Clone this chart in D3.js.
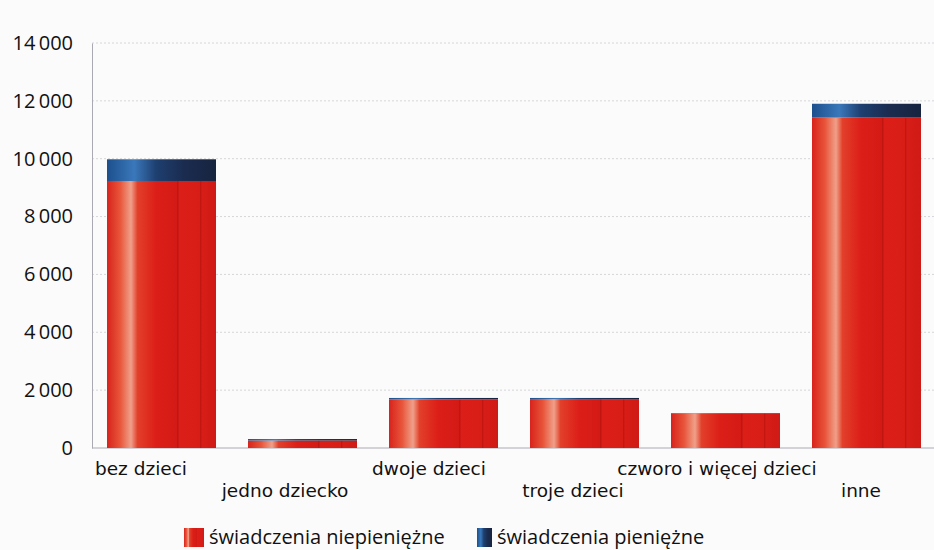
<!DOCTYPE html>
<html>
<head>
<meta charset="utf-8">
<script src="https://cdn.jsdelivr.net/npm/d3@7"></script>
<style>
  body { margin: 0; background: #fbfbfb; }
  svg { display: block; }
</style>
</head>
<body>
<div id="chart"></div>
<script>
// data
const categories = ["bez dzieci", "jedno dziecko", "dwoje dzieci", "troje dzieci", "czworo i więcej dzieci", "inne"];
const niepieniezne = [9230, 260, 1680, 1690, 1200, 11420];
const pieniezne = [750, 50, 50, 40, 10, 480];
const seriesNames = ["świadczenia niepieniężne", "świadczenia pieniężne"];
const yTicks = [0, 2000, 4000, 6000, 8000, 10000, 12000, 14000];

const width = 934, height = 550;
const margin = {top: 43, right: 0, bottom: 102, left: 92};

let svg = d3.select("#chart")
  .append("svg")
  .attr("width", width)
  .attr("height", height);

let defs = svg.append("defs");

// shaded bar look (highlight stripe + darker edges)
let redGrad = defs.append("linearGradient").attr("id", "redGrad");
[[0, "#d8231c"], [0.12, "#e8553a"], [0.22, "#f0a08a"], [0.28, "#e2402b"], [0.45, "#dc1e18"],
 [0.64, "#d41a15"], [0.65, "#b8130f"], [0.66, "#dc1e18"], [0.85, "#d81d17"], [0.86, "#bd1410"],
 [0.87, "#d81d17"], [1, "#cf1a15"]].forEach(s => {
  redGrad.append("stop").attr("offset", s[0]).attr("stop-color", s[1]);
});
let blueGrad = defs.append("linearGradient").attr("id", "blueGrad");
[[0, "#1d4f8c"], [0.25, "#3a78bb"], [0.45, "#1e3f70"], [0.7, "#1b2c50"], [1, "#17243f"]].forEach(s => {
  blueGrad.append("stop").attr("offset", s[0]).attr("stop-color", s[1]);
});

let xScale = d3.scaleBand()
  .domain(categories)
  .range([91, 937])
  .paddingInner(0.227)
  .paddingOuter(0.1135);

// labels sit a bit left of the bars, on their own spacing
let labelScale = d3.scalePoint()
  .domain(categories)
  .range([141, 861]);

let yScale = d3.scaleLinear()
  .domain([0, 14000])
  .range([height - margin.bottom, margin.top]);

// gridlines
svg.append("g")
  .selectAll("line")
  .data(yTicks.slice(1))
  .enter()
  .append("line")
    .attr("x1", margin.left)
    .attr("x2", width)
    .attr("y1", d => yScale(d))
    .attr("y2", d => yScale(d))
    .attr("stroke", "#d6d6da")
    .attr("stroke-dasharray", "2,2");

// y axis
let yAxis = svg.append("g")
  .attr("transform", `translate(${margin.left}, 0)`)
  .call(d3.axisLeft(yScale).tickValues(yTicks).tickSize(0).tickPadding(19)
    .tickFormat(d => d3.format(",")(d).replace(",", "\u2009")));
yAxis.select(".domain").attr("stroke", "#a9a9b3");
yAxis.selectAll("text")
  .attr("font-family", "'Open Sans', sans-serif")
  .attr("font-size", "20px")
  .attr("fill", "#111");

// baseline
svg.append("line")
  .attr("x1", margin.left)
  .attr("x2", width)
  .attr("y1", yScale(0))
  .attr("y2", yScale(0))
  .attr("stroke", "#a9a9b3");

// stacked bars
let rows = categories.map((c, i) => ({cat: c, a: niepieniezne[i], b: pieniezne[i]}));

svg.selectAll(".red")
  .data(rows)
  .enter()
  .append("rect")
    .attr("class", "red")
    .attr("x", d => xScale(d.cat))
    .attr("width", xScale.bandwidth())
    .attr("y", d => yScale(d.a))
    .attr("height", d => yScale(0) - yScale(d.a))
    .attr("fill", "url(#redGrad)");

svg.selectAll(".blue")
  .data(rows)
  .enter()
  .append("rect")
    .attr("class", "blue")
    .attr("x", d => xScale(d.cat))
    .attr("width", xScale.bandwidth())
    .attr("y", d => yScale(d.a + d.b))
    .attr("height", d => yScale(d.a) - yScale(d.a + d.b))
    .attr("fill", "url(#blueGrad)");

// x labels, staggered in two rows
svg.selectAll(".xlab")
  .data(categories)
  .enter()
  .append("text")
    .attr("class", "xlab")
    .attr("x", d => labelScale(d))
    .attr("y", (d, i) => i % 2 === 0 ? 475 : 497)
    .attr("text-anchor", "middle")
    .attr("font-family", "'DejaVu Sans', sans-serif")
    .attr("font-size", "18.5px")
    .attr("fill", "#111")
    .text(d => d);

// legend
let legend = svg.append("g").attr("transform", "translate(184, 0)");
let legX = [0, 293];
let legFill = ["url(#redGrad)", "url(#blueGrad)"];
seriesNames.forEach((name, i) => {
  legend.append("rect")
    .attr("x", legX[i])
    .attr("y", 528)
    .attr("width", i === 0 ? 20 : 15)
    .attr("height", 19)
    .attr("fill", legFill[i]);
  legend.append("text")
    .attr("x", legX[i] + (i === 0 ? 25 : 20))
    .attr("y", 544)
    .attr("font-family", "'Open Sans', sans-serif")
    .attr("font-size", "20px")
    .attr("fill", "#111")
    .text(name);
});
</script>
</body>
</html>
